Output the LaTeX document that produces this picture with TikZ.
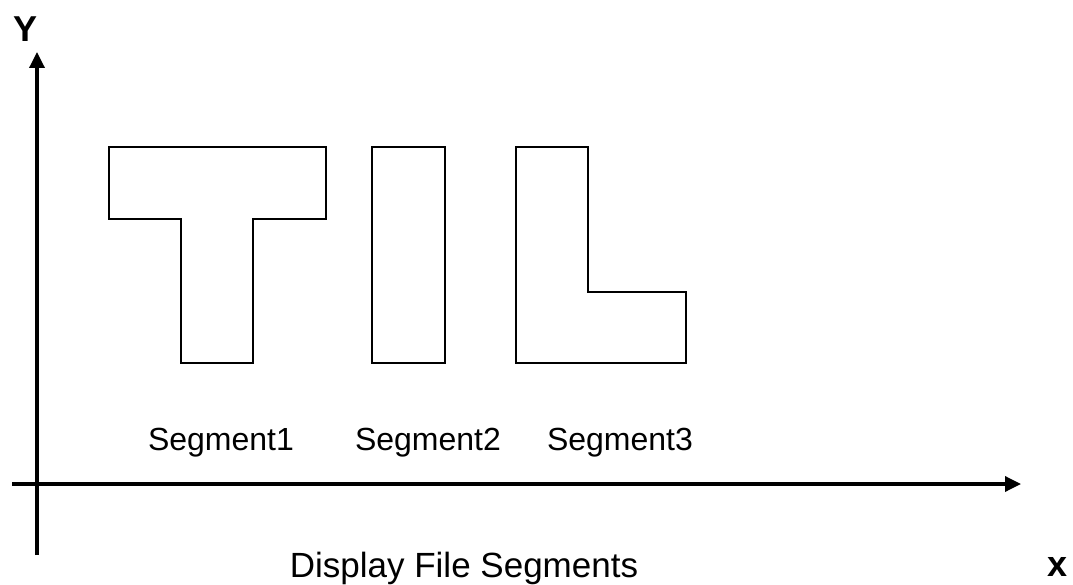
\documentclass[tikz,border=0pt]{standalone}
\usepackage{fontspec}
\setmainfont{Liberation Sans}
\usetikzlibrary{arrows.meta}
\tikzset{
  axis/.style={line width=3.4pt,-{Triangle[length=16pt,width=15pt]}},
  seg/.style={draw=black,line width=1.5pt,line join=miter},
  seglabel/.style={inner sep=0pt,anchor=base,font=\fontsize{32}{36}\selectfont},
  caption/.style={inner sep=0pt,anchor=base,font=\fontsize{35}{40}\selectfont},
  axislabel/.style={inner sep=0pt,anchor=base,font=\fontsize{36}{40}\selectfont\bfseries}
}
\begin{document}
\begin{tikzpicture}[x=1pt,y=-1pt]
\useasboundingbox (0,0) rectangle (1073,585);
% axes
\coordinate (yb) at (37,555);
\coordinate (yt) at (37,52);
\coordinate (xl) at (12,484);
\coordinate (xr) at (1021,484);
\draw[axis] (yb) -- (yt);
\draw[axis] (xl) -- (xr);
\node[axislabel] (ylab) at (26,42) {Y};
\node[axislabel] (xlab) at (1057,576) {x};
% segments
\draw[seg] (109,147) -- (326,147) -- (326,219) -- (253,219) -- (253,363) -- (181,363) -- (181,219) -- (109,219) -- cycle;
\draw[seg] (372,147) rectangle (445,363);
\draw[seg] (516,147) -- (588,147) -- (588,292) -- (686,292) -- (686,363) -- (516,363) -- cycle;
% labels
\node[seglabel] (s1) at (221,450) {Segment1};
\node[seglabel] (s2) at (428,450) {Segment2};
\node[seglabel] (s3) at (620,450) {Segment3};
\node[caption] (cap) at (464,577) {Display File Segments};
\end{tikzpicture}
\end{document}
